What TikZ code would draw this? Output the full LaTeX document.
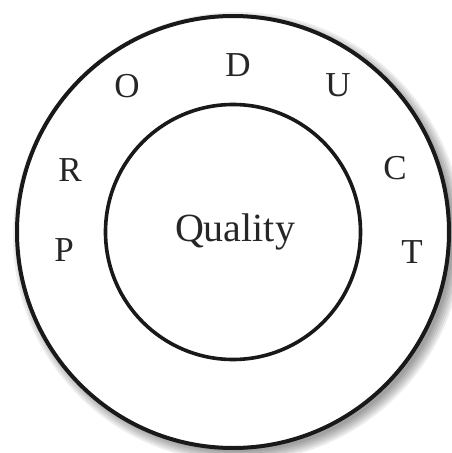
\documentclass[tikz,border=0pt]{standalone}
\usepackage{fontspec}
\setmainfont{Liberation Serif}
\begin{document}
\begin{tikzpicture}[x=1pt,y=-1pt,
  ring/.style={draw=black!90,line width=4pt},
  letter/.style={font=\fontsize{35}{35}\selectfont,text=black!85,inner sep=0pt},
  shade/.style={fill=black,opacity=0.07}]
\useasboundingbox[fill=white] (0,0) rectangle (452,453);
% soft shadow
\foreach \r in {215,217,...,225}{
  \fill[shade] (238,237) circle (\r);
}
\node[ring,circle,minimum size=432pt,inner sep=0pt,fill=white] (outer) at (233,232) {};
\node[ring,circle,minimum size=255pt,inner sep=0pt,line width=3.6pt] (inner) at (233,232) {};
\node[font=\fontsize{40}{40}\selectfont,text=black!85] (q) at (235,232) {Quality};
\node[letter] (P) at (64,250) {P};
\node[letter] (R) at (70,170) {R};
\node[letter] (O) at (127,86) {O};
\node[letter] (D) at (238,65) {D};
\node[letter] (U) at (338,85) {U};
\node[letter] (C) at (395,168) {C};
\node[letter] (T) at (412,252) {T};
\end{tikzpicture}
\end{document}
